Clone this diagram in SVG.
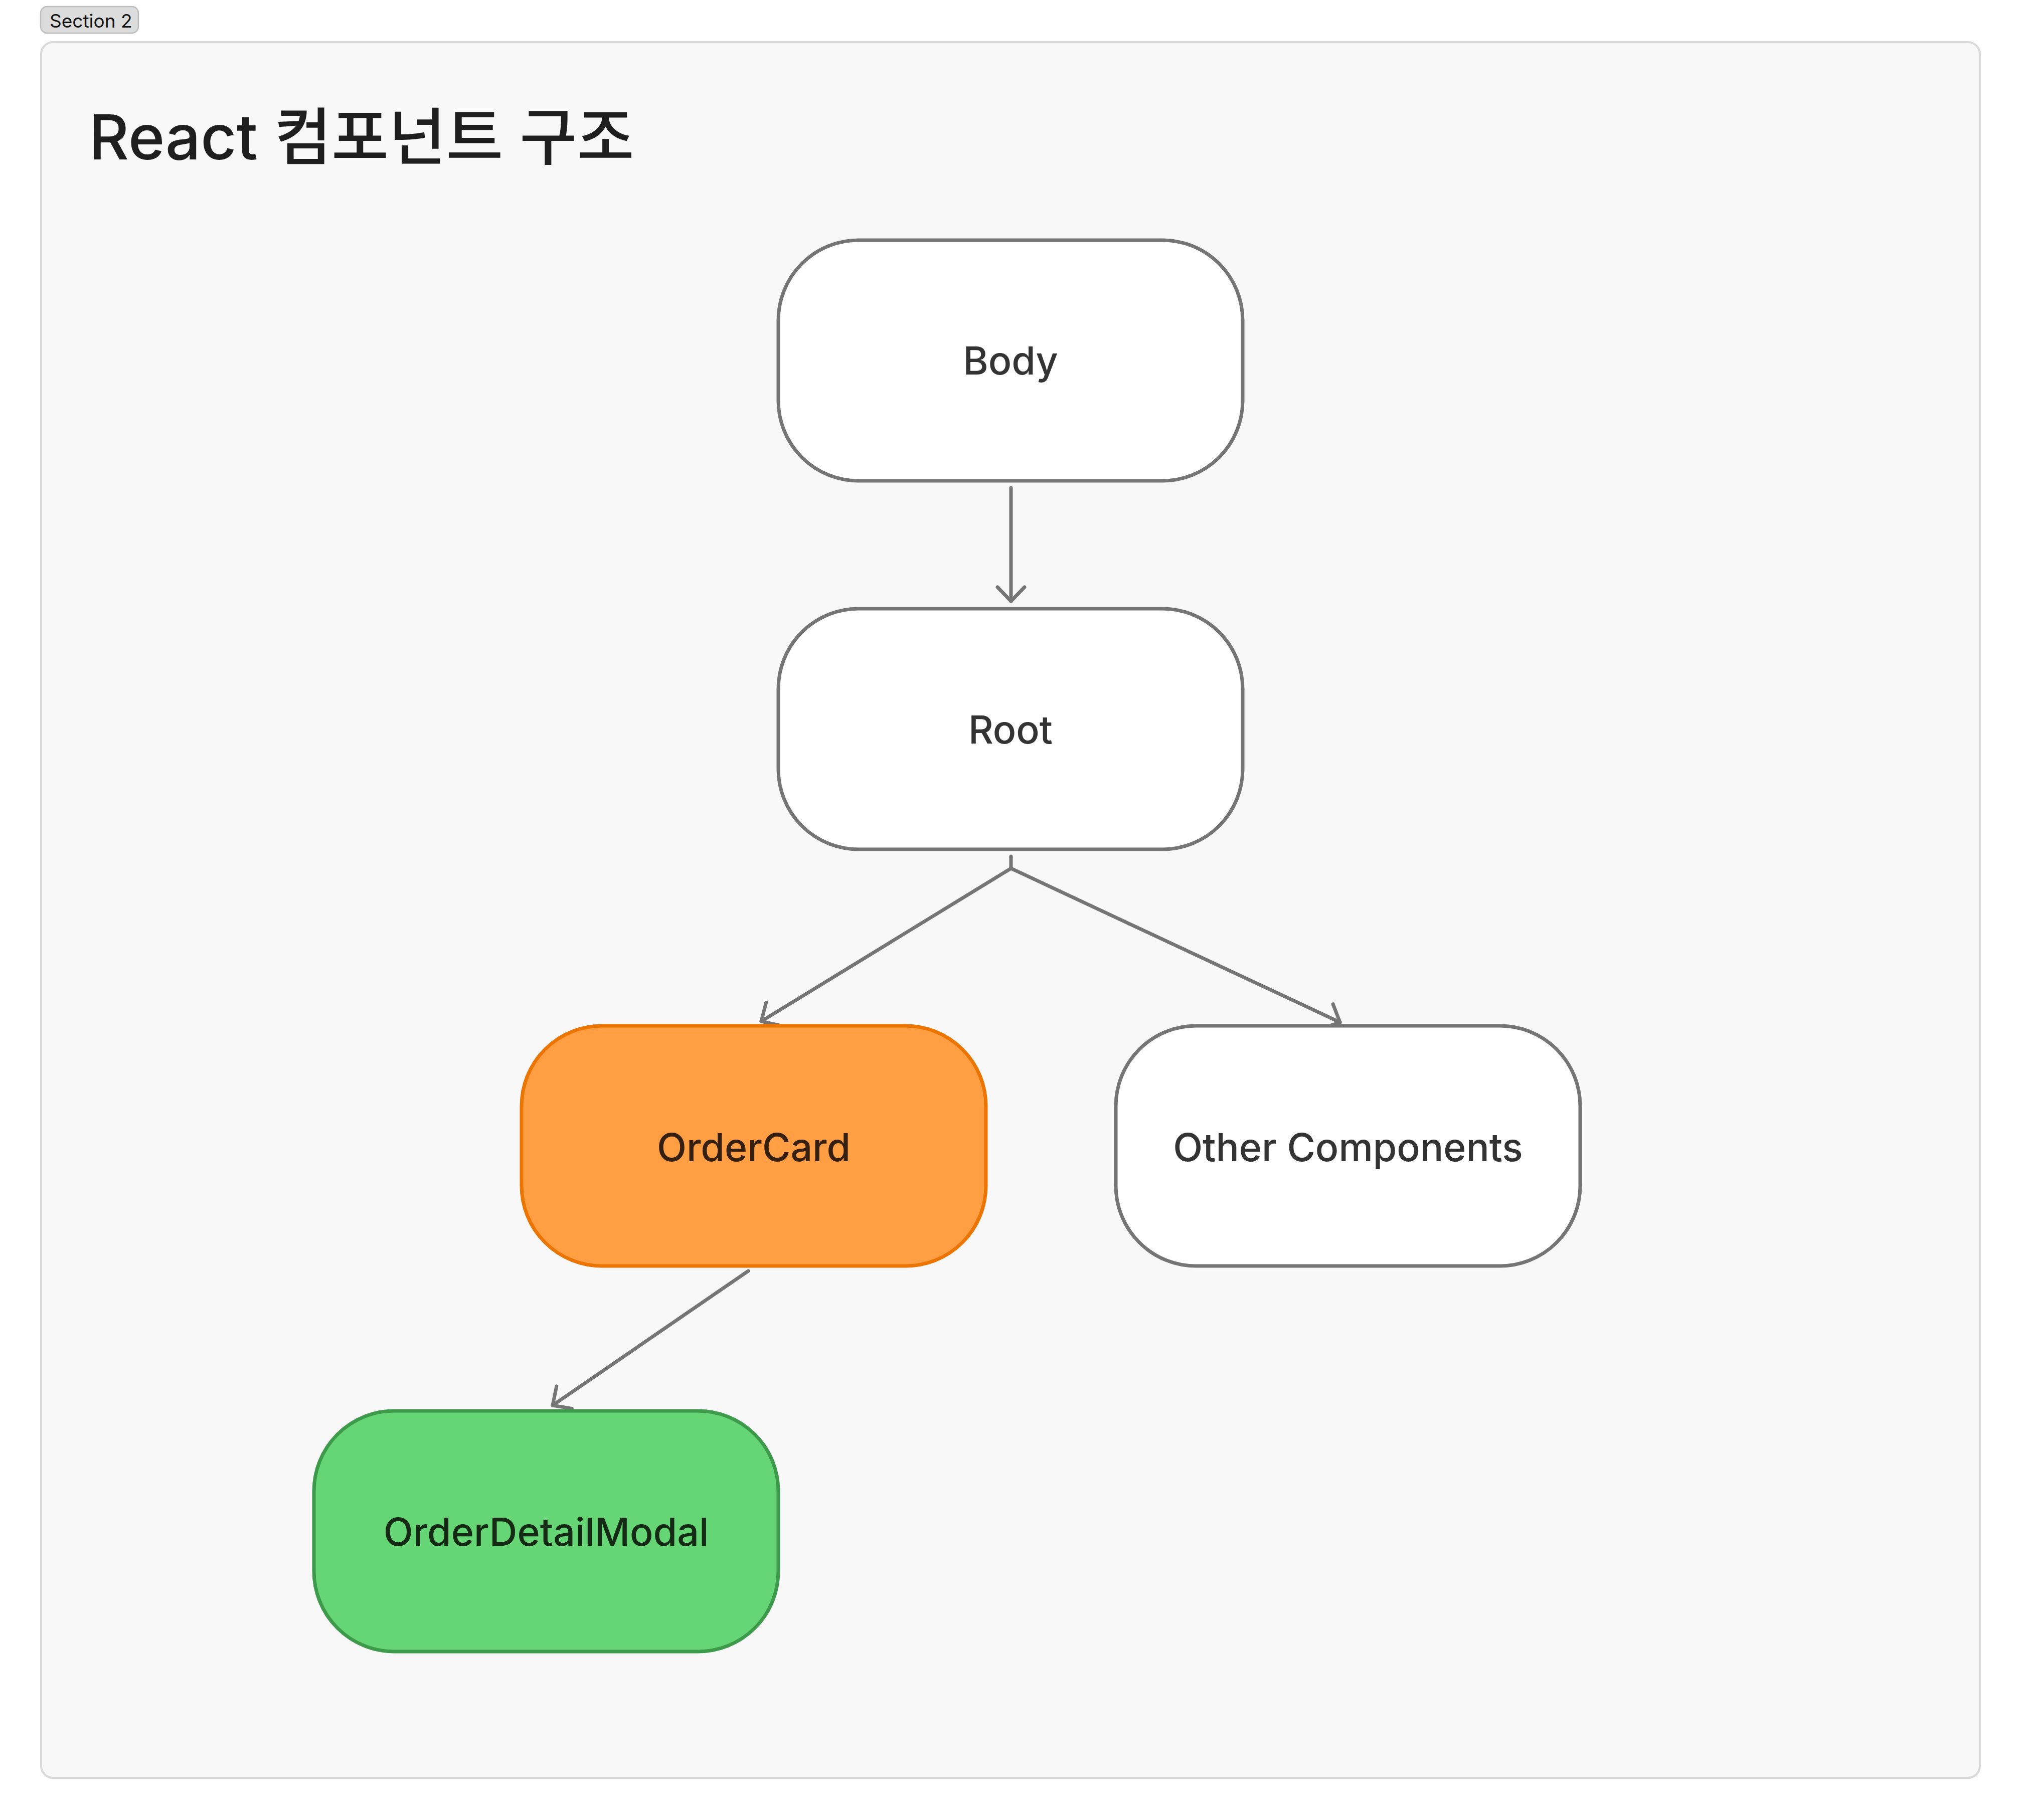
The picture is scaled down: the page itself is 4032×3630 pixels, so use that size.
<svg xmlns="http://www.w3.org/2000/svg" width="4032" height="3630" viewBox="0 0 4032 3630">
  <style>
    .node { stroke-width: 7; }
    .plain { fill: #ffffff; stroke: #757575; }
    .orange { fill: #ff9e42; stroke: #eb7500; }
    .green { fill: #66d575; stroke: #3d9a4a; }
    .label { font-family: Inter, "Noto Sans", "Liberation Sans", sans-serif; font-size: 77px; font-weight: 500; text-anchor: middle; }
    .conn { fill: none; stroke: #757575; stroke-width: 7; stroke-linecap: round; stroke-linejoin: round; }
  </style>
  <defs>
    <marker id="arrow" markerUnits="userSpaceOnUse" viewBox="-40 -40 80 80" markerWidth="80" markerHeight="80" refX="0" refY="0" orient="auto" overflow="visible">
      <path d="M-28,-27 L0,0 L-28,27" fill="none" stroke="#757575" stroke-width="7" stroke-linecap="round" stroke-linejoin="round"/>
    </marker>
  </defs>
  <rect x="0" y="0" width="4032" height="3630" fill="#ffffff"/>
  <g id="section-label">
    <rect x="81" y="13" width="195" height="53" rx="13" fill="#dcdcdc" stroke="#bdbdbd" stroke-width="2.5"/>
    <text x="99" y="55" font-family="Inter, 'Noto Sans', 'Liberation Sans', sans-serif" font-size="37" fill="#111111">Section 2</text>
  </g>
  <g id="frame">
    <rect x="82" y="84" width="3866" height="3462" rx="24" fill="#f8f8f8" stroke="#d9d9d9" stroke-width="4"/>
    <text x="177" y="318" font-family="Inter, 'Noto Sans CJK KR', 'Noto Sans', sans-serif" font-size="124" font-weight="500" fill="#1e1e1e">React 컴포넌트 구조</text>
  </g>
  <g id="connectors">
    <path class="conn" d="M2016 973 L2016 1199" marker-end="url(#arrow)"/>
    <path class="conn" d="M2016 1708 L2016 1732 L1518 2037" marker-end="url(#arrow)"/>
    <path class="conn" d="M2016 1732 L2672 2039" marker-end="url(#arrow)"/>
    <path class="conn" d="M1492 2535 L1102 2803" marker-end="url(#arrow)"/>
  </g>
  <g id="node-body">
    <rect class="node plain" x="1552" y="479" width="926" height="480" rx="160"/>
    <text class="label" x="2015" y="747" fill="#333333">Body</text>
  </g>
  <g id="node-root">
    <rect class="node plain" x="1552" y="1214" width="926" height="480" rx="160"/>
    <text class="label" x="2015" y="1483" fill="#333333">Root</text>
  </g>
  <g id="node-ordercard">
    <rect class="node orange" x="1040" y="2046" width="926" height="479" rx="160"/>
    <text class="label" x="1503" y="2316" fill="#35200f">OrderCard</text>
  </g>
  <g id="node-other">
    <rect class="node plain" x="2225" y="2046" width="926" height="479" rx="160"/>
    <text class="label" x="2688" y="2316" fill="#333333">Other Components</text>
  </g>
  <g id="node-modal">
    <rect class="node green" x="626" y="2814" width="926" height="480" rx="160"/>
    <text class="label" x="1089" y="3083" fill="#142a14">OrderDetailModal</text>
  </g>
</svg>
